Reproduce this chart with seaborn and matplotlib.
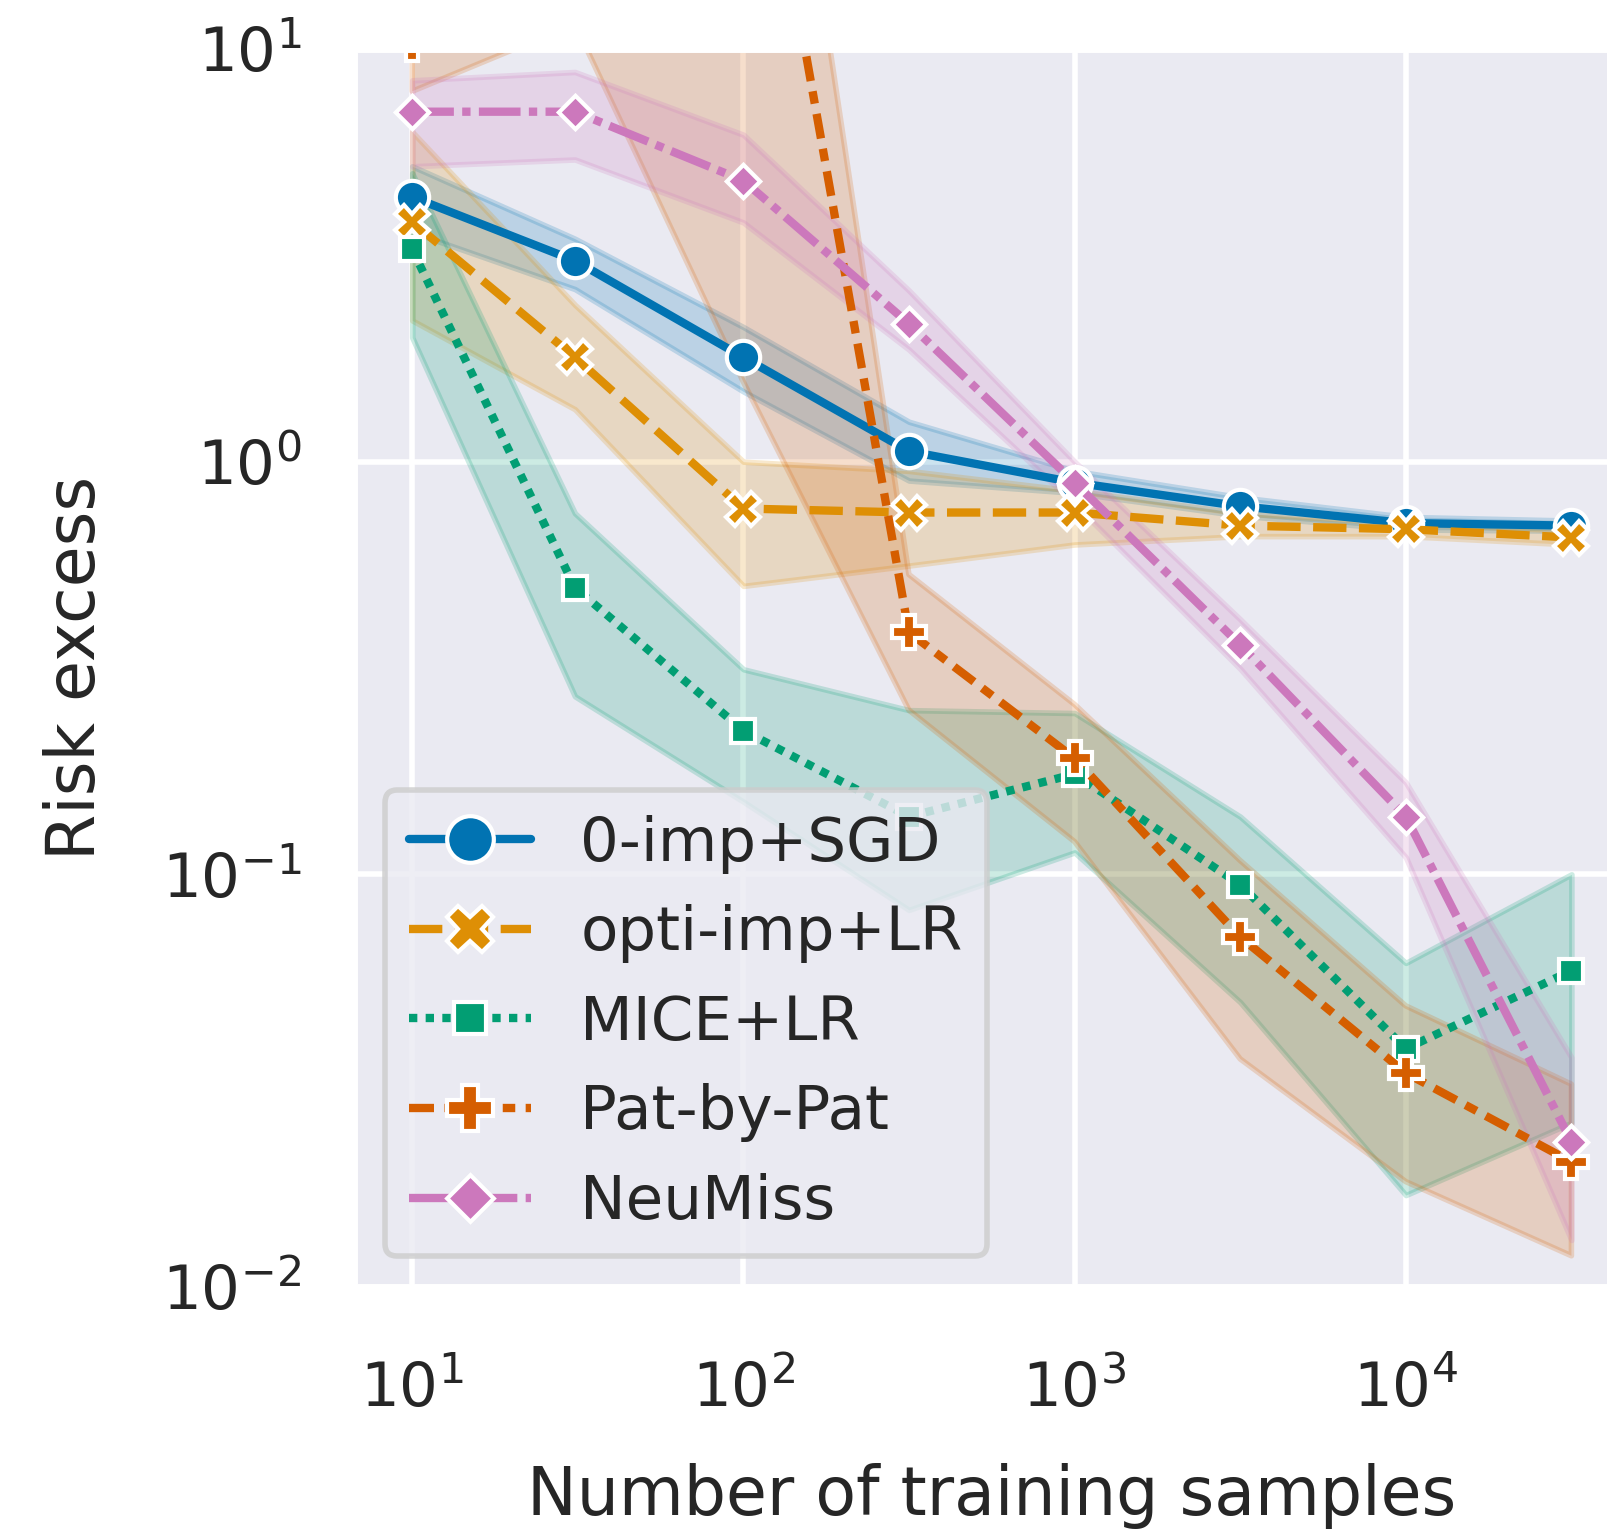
import matplotlib
matplotlib.use("Agg")
import matplotlib.pyplot as plt
import numpy as np
import pandas as pd
import seaborn as sns

# ---- data ----
n_samples = [10, 31, 100, 316, 1000, 3162, 10000, 31623]
methods = ["0-imp+SGD", "opti-imp+LR", "MICE+LR", "Pat-by-Pat", "NeuMiss"]

zero_imp_mean = [4.38, 3.07, 1.79, 1.06, 0.89, 0.78, 0.71, 0.70]
zero_imp_low = [3.6, 2.62, 1.48, 0.90, 0.84, 0.74, 0.685, 0.68]
zero_imp_high = [5.2, 3.47, 2.12, 1.25, 0.95, 0.82, 0.735, 0.72]

opti_imp_mean = [3.81, 1.79, 0.77, 0.753, 0.753, 0.70, 0.686, 0.655]
opti_imp_low = [2.2, 1.34, 0.50, 0.56, 0.63, 0.66, 0.66, 0.63]
opti_imp_high = [6.3, 2.4, 1.0, 0.95, 0.85, 0.75, 0.71, 0.68]

mice_mean = [3.27, 0.495, 0.223, 0.138, 0.175, 0.0944, 0.0378, 0.0584]
mice_low = [2.0, 0.27, 0.15, 0.082, 0.113, 0.049, 0.0167, 0.025]
mice_high = [5.0, 0.75, 0.314, 0.25, 0.246, 0.138, 0.061, 0.100]

pbp_mean = [10.3, 80.0, 69.0, 0.386, 0.191, 0.0705, 0.033, 0.0201]
pbp_low = [7.9, 11.5, 1.56, 0.25, 0.12, 0.0357, 0.018, 0.0119]
pbp_high = [40.0, 300.0, 250.0, 0.533, 0.258, 0.108, 0.048, 0.031]

neumiss_mean = [7.05, 7.05, 4.8, 2.16, 0.89, 0.36, 0.138, 0.0225]
neumiss_low = [5.2, 5.4, 3.8, 1.87, 0.79, 0.315, 0.11, 0.013]
neumiss_high = [8.4, 8.8, 6.2, 2.6, 1.0, 0.415, 0.167, 0.036]

series = {
    "0-imp+SGD": (zero_imp_low, zero_imp_mean, zero_imp_high),
    "opti-imp+LR": (opti_imp_low, opti_imp_mean, opti_imp_high),
    "MICE+LR": (mice_low, mice_mean, mice_high),
    "Pat-by-Pat": (pbp_low, pbp_mean, pbp_high),
    "NeuMiss": (neumiss_low, neumiss_mean, neumiss_high),
}

# long table: for each point, lower / centre / upper; the median is the line,
# the full (100%) percentile interval is the band
rows = []
for m in methods:
    lo, mid, hi = series[m]
    for x, a, b, c in zip(n_samples, lo, mid, hi):
        for v in (a, b, c):
            rows.append({"n": x, "risk": v, "method": m})
df = pd.DataFrame(rows)

sns.set_theme(style="darkgrid", context="notebook")
plt.rcParams["font.family"] = ["DejaVu Sans"]

fig = plt.figure(figsize=(4.02, 3.8325), dpi=400)
ax = fig.add_axes([0.2203, 0.1605, 0.793, 0.8075])
ax.set_xscale("log")
ax.set_yscale("log")

sns.lineplot(
    data=df, x="n", y="risk", hue="method", style="method",
    hue_order=methods, style_order=methods,
    markers=True, dashes=True, palette="colorblind",
    estimator="median", errorbar=("pi", 100), ax=ax,
)

ax.set_ylim(0.01, 10)
ax.tick_params(axis="x", pad=7.2)
ax.set_xlabel("Number of training samples", labelpad=7.7)
ax.set_ylabel("Risk excess", labelpad=9.5)
ax.legend(loc="lower left", markerscale=1.4)

fig.savefig("out.png", dpi=400)
